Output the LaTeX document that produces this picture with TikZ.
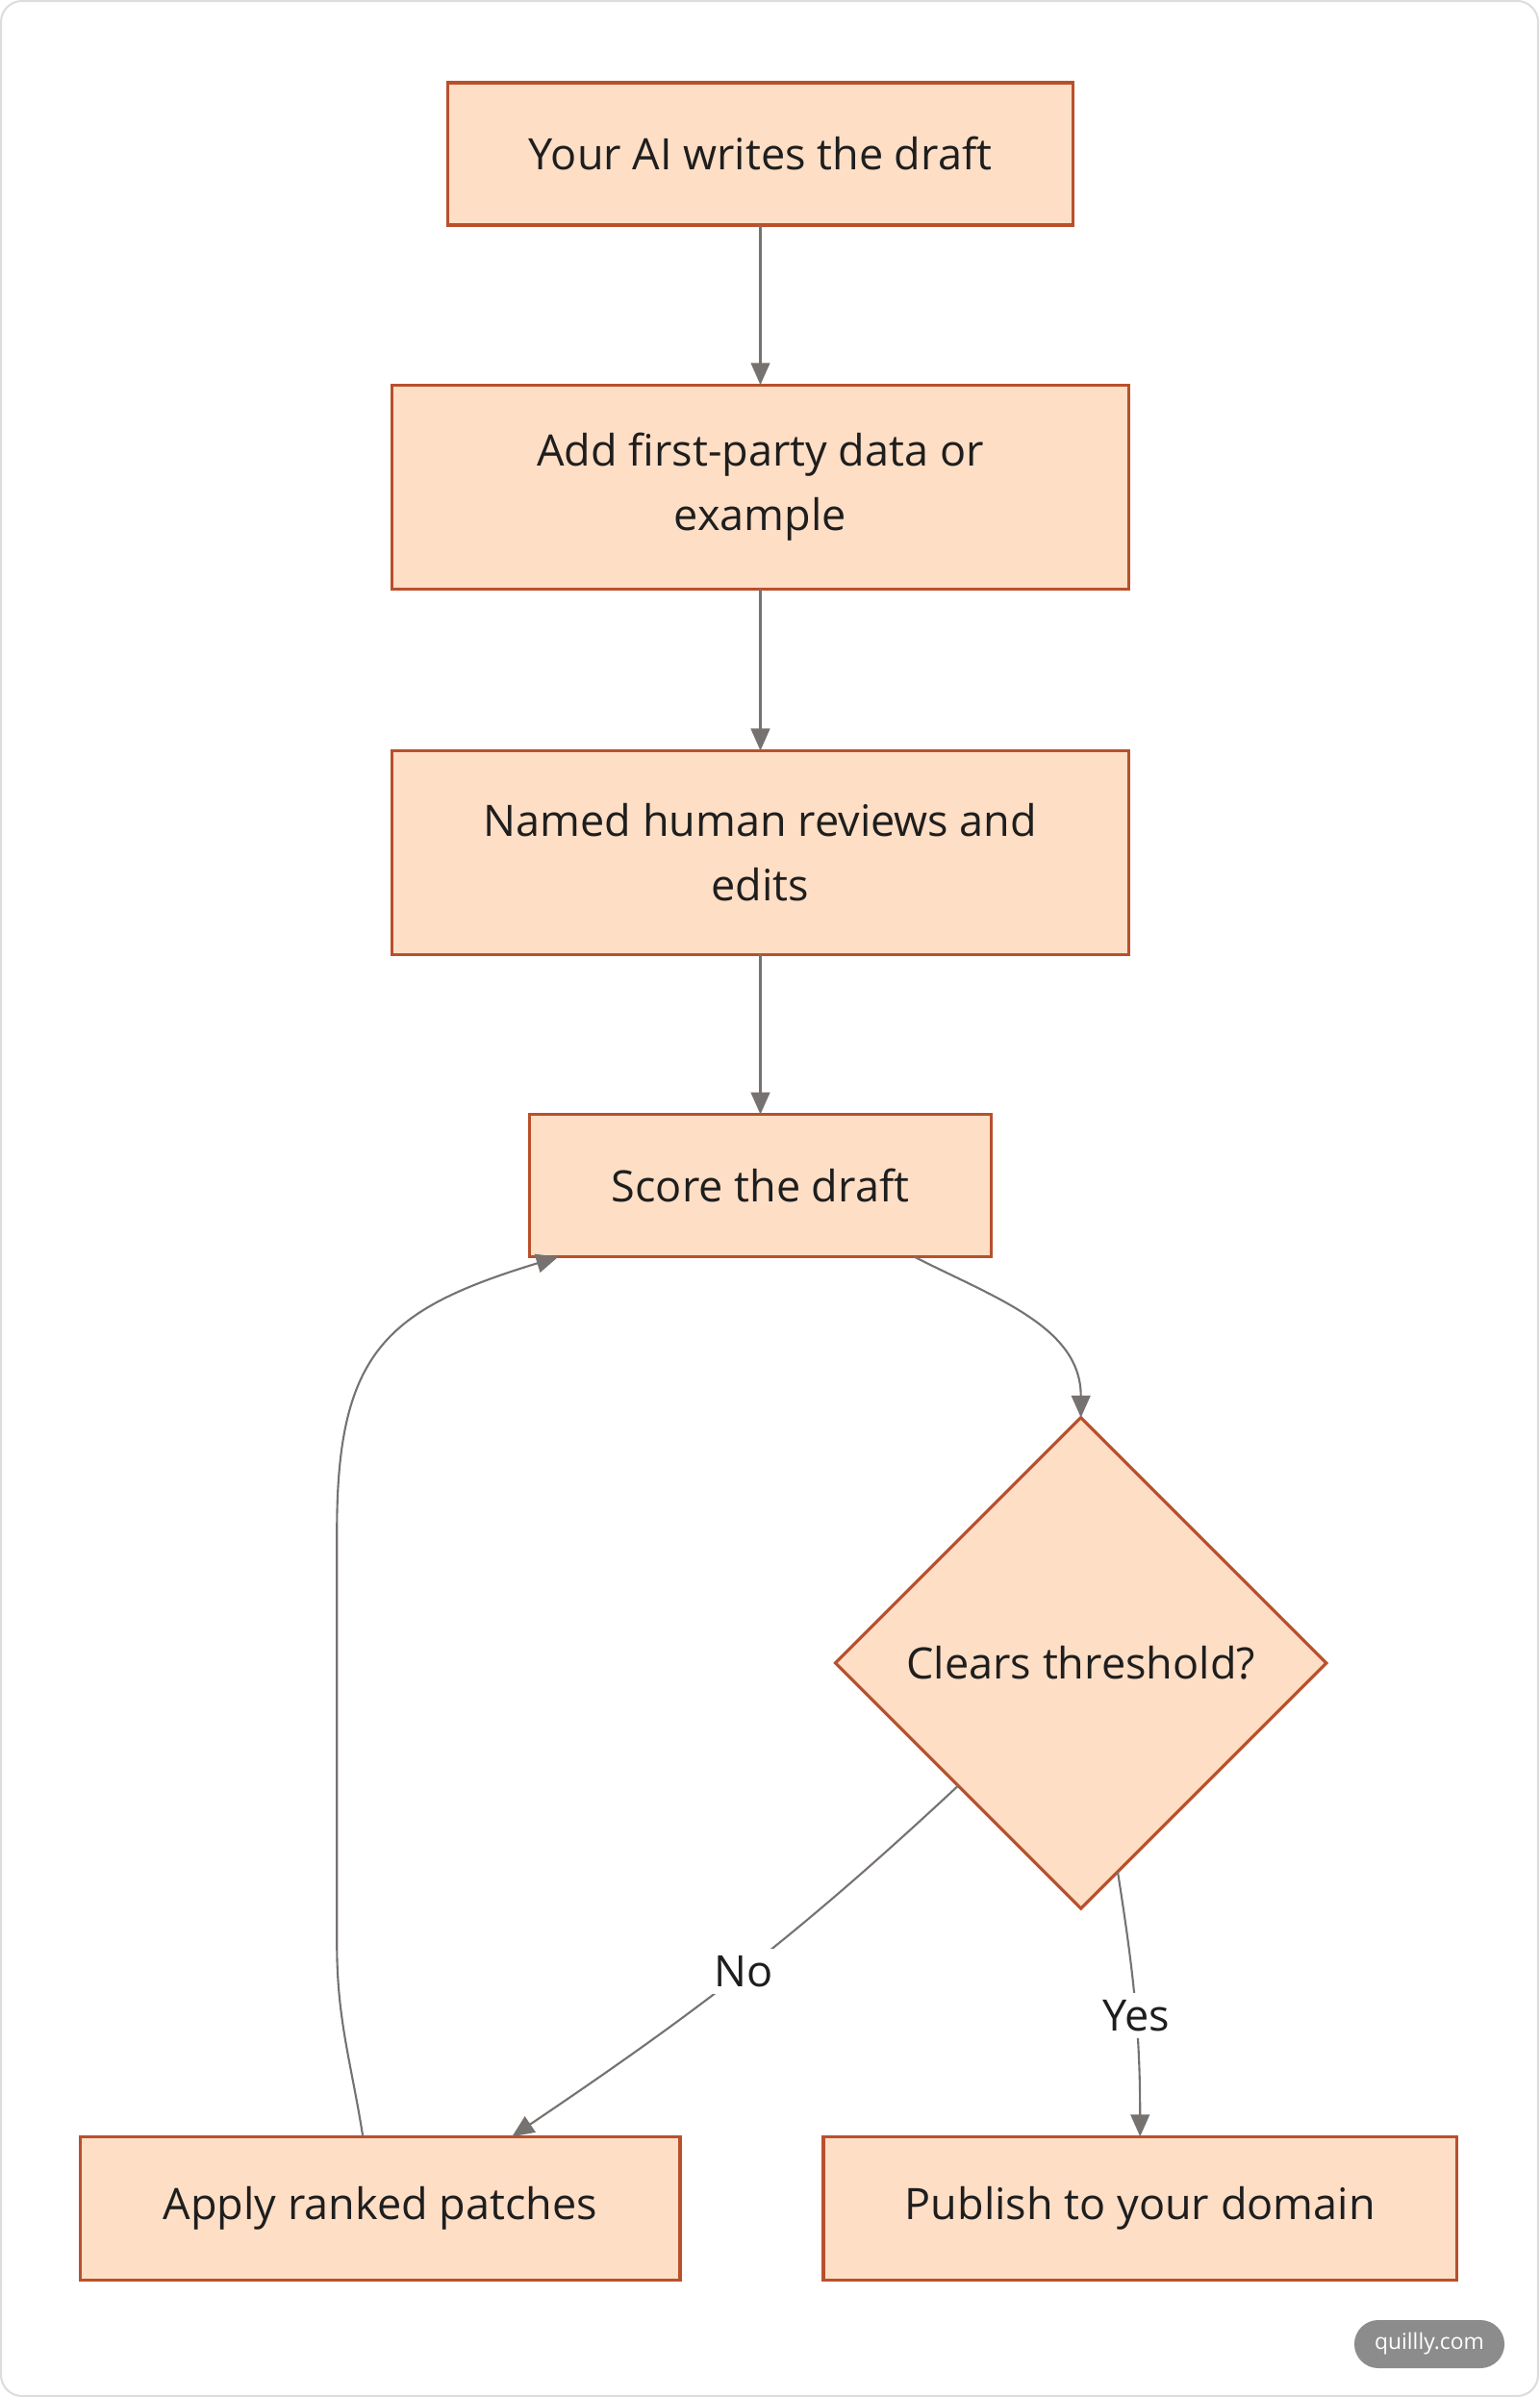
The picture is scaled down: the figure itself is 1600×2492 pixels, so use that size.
\documentclass[tikz,border=0pt]{standalone}
\usepackage{fontspec}
\setmainfont{Open Sans}
\usepackage{tikz}
\usetikzlibrary{positioning,arrows.meta,shapes.geometric}
\definecolor{boxfill}{HTML}{FEDEC5}
\definecolor{boxline}{HTML}{B9502C}
\definecolor{edgegray}{HTML}{767270}
\definecolor{textdark}{HTML}{1E1E1E}
\definecolor{framegray}{HTML}{DDDDDD}
\definecolor{tagfill}{HTML}{8C8C8C}
\tikzset{
  stepnode/.style={
    rectangle, draw=boxline, fill=boxfill, line width=0.9pt,
    font=\fontsize{12.8}{19}\selectfont, text=textdark, align=center,
    minimum height=1.48cm, inner sep=0pt, outer sep=0pt
  },
  decnode/.style={
    diamond, draw=boxline, fill=boxfill, line width=0.9pt,
    font=\fontsize{12.8}{19}\selectfont, text=textdark,
    minimum width=5.1cm, minimum height=5.1cm, inner sep=0pt, outer sep=0pt
  },
  arr/.style={
    -{Triangle[length=6.5pt,width=5.6pt]}, line width=0.6pt, edgegray
  },
  edgelabel/.style={
    fill=white, font=\fontsize{12.8}{15}\selectfont, text=textdark, inner sep=2pt
  },
  tag/.style={
    rounded corners=0.25cm, fill=tagfill, text=white,
    font=\fontsize{6.5}{8}\selectfont,
    minimum width=1.56cm, minimum height=0.5cm
  }
}

\begin{document}
\begin{tikzpicture}[x=0.01cm, y=-0.01cm]
\useasboundingbox (0,0) rectangle (1600,2492);
\draw[framegray, line width=0.6pt, rounded corners=0.22cm] (1,1) rectangle (1599,2491);

\node[stepnode, minimum width=6.49cm] (draft) at (790.5,160) {Your AI writes the draft};
\node[stepnode, minimum width=7.65cm, minimum height=2.12cm, below=1.66cm of draft] (addData) {Add first-party data or\\example};
\node[stepnode, minimum width=7.65cm, minimum height=2.12cm, below=1.68cm of addData] (review) {Named human reviews and\\edits};
\node[stepnode, minimum width=4.79cm, below=1.66cm of review] (score) {Score the draft};
\node[decnode, below=1.67cm of score, xshift=3.33cm] (threshold) {Clears threshold?};
\node[stepnode, minimum width=6.58cm, minimum height=1.49cm, below=2.37cm of threshold, xshift=0.615cm] (publish) {Publish to your domain};
\node[stepnode, minimum width=6.23cm, minimum height=1.49cm, left=1.49cm of publish] (applyPatches) {Apply ranked patches};

\node[tag] (brand) at (1486,2437) {quillly.com};

\draw[arr] (draft) -- (addData);
\draw[arr] (addData) -- (review);
\draw[arr] (review) -- (score);
\draw[arr] ([xshift=1.6cm]score.south) to[out=-27, in=90] (threshold.north);
\draw[arr] (threshold.south west) to[out=-137, in=34] node[edgelabel]{No} ([xshift=1.37cm]applyPatches.north);
\draw[arr] (threshold.-80) to[out=-81, in=90] node[edgelabel, pos=0.55]{Yes} (publish.north);
\draw[arr] ([xshift=-0.18cm]applyPatches.north) to[out=99, in=-90] ++(-27,-200) -- ++(0,-430) to[out=90, in=-163, looseness=1.3] ([xshift=-2.1cm]score.south);
\end{tikzpicture}
\end{document}
